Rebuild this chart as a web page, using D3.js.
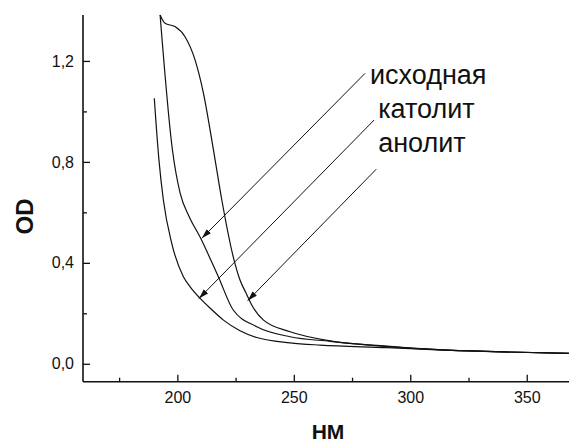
<!DOCTYPE html>
<meta charset="utf-8">
<script src="https://cdn.jsdelivr.net/npm/d3@7"></script>
<style>
  body { margin: 0; background: #fff; }
  svg { display: block; font-family: Arial, "Liberation Sans", sans-serif; }
</style>
<svg></svg>
<script>
// spectra (wavelength nm, optical density)
var catholyteNm = [190.1, 192.1, 194.0, 197.6, 202.6, 205.5, 209.7, 214.0, 219.8, 226.9, 234.1, 248.4, 261.3, 290, 314, 340, 369];
var catholyteOD = [1.052, 0.808, 0.649, 0.477, 0.345, 0.305, 0.260, 0.221, 0.173, 0.131, 0.104, 0.083, 0.074, 0.064, 0.054, 0.047, 0.041];

var initialNm = [192.6, 197.9, 201.2, 205.0, 209.7, 217.6, 224.0, 234.1, 248.4, 265.6, 290, 314, 340, 369];
var initialOD = [1.382, 0.847, 0.676, 0.585, 0.503, 0.345, 0.213, 0.147, 0.107, 0.089, 0.068, 0.055, 0.047, 0.041];

var anolyteNm = [192.6, 194.7, 199.0, 203.3, 207.6, 211.2, 214.0, 216.0, 219.1, 224.0, 226.9, 229.5, 232.0, 237.0, 248.4, 265.6, 290, 314, 340, 369];
var anolyteOD = [1.382, 1.349, 1.336, 1.296, 1.204, 1.072, 0.930, 0.820, 0.649, 0.424, 0.332, 0.280, 0.232, 0.173, 0.127, 0.091, 0.070, 0.055, 0.047, 0.041];

var xMajor = [200, 250, 300, 350],
    xMinor = [175, 225, 275, 325];
var yMajor = [0, 0.4, 0.8, 1.2],
    yMinor = [0.2, 0.6, 1.0];

// arrow annotations
var labels   = ["исходная", "католит", "анолит"];
var arrowTail = [[280.6, 1.151], [284.5, 0.966], [285.4, 0.771]];
var arrowTip  = [[210.5, 0.497], [209.3, 0.259], [230.2, 0.250]];
var labelAt   = [[282.7, 1.109], [286.2, 0.974], [286.2, 0.839]];

var W = 569, H = 443;
var svg = d3.select("svg").attr("width", W).attr("height", H);

var x = d3.scaleLinear().domain([159.5, 369]).range([83, 571]);
var y = d3.scaleLinear().domain([-0.071, 1.382]).range([381.7, 15]);

var fmt = function(d){ return d3.format(".1f")(d).replace(".", ","); };

svg.append("defs").append("clipPath").attr("id", "plot")
   .append("rect").attr("x", 83).attr("y", 14).attr("width", W - 83).attr("height", 368);

svg.select("defs").append("marker")
   .attr("id", "head")
   .attr("markerUnits", "userSpaceOnUse")
   .attr("viewBox", "0 -4 11 8")
   .attr("refX", 10).attr("refY", 0)
   .attr("markerWidth", 11).attr("markerHeight", 8)
   .attr("orient", "auto")
   .append("path").attr("d", "M0,-3L10,0L0,3Z").attr("fill", "#111");

// axes
var yAxis = svg.append("g").attr("transform", "translate(83,0)")
   .call(d3.axisLeft(y).tickValues(yMajor).tickSize(-7).tickPadding(9).tickFormat(fmt));
svg.append("g").attr("transform", "translate(83,0)")
   .call(d3.axisLeft(y).tickValues(yMinor).tickSize(-4).tickFormat(""));

var xAxis = svg.append("g").attr("transform", "translate(0,381.7)")
   .call(d3.axisBottom(x).tickValues(xMajor).tickSize(-7).tickPadding(10));
svg.append("g").attr("transform", "translate(0,381.7)")
   .call(d3.axisBottom(x).tickValues(xMinor).tickSize(-4).tickFormat(""));

svg.selectAll(".domain").attr("stroke", "#111").attr("stroke-width", 1.6).attr("d", null);
yAxis.select(".domain").attr("d", "M0,15V381.7");
xAxis.select(".domain").attr("d", "M83,0H569");
svg.selectAll(".tick line").attr("stroke", "#111").attr("stroke-width", 1.3);
svg.selectAll(".tick text").attr("font-size", 16).attr("fill", "#111")
   .attr("font-family", "Arial, 'Liberation Sans', sans-serif");

// curves
var line = d3.line()
   .x(function(d){ return x(d[0]); })
   .y(function(d){ return y(d[1]); })
   .curve(d3.curveMonotoneX);

var series = [
  d3.zip(initialNm, initialOD),
  d3.zip(catholyteNm, catholyteOD),
  d3.zip(anolyteNm, anolyteOD)
];

svg.append("g").attr("clip-path", "url(#plot)")
   .selectAll("path").data(series).enter().append("path")
   .attr("d", line)
   .attr("fill", "none")
   .attr("stroke", "#111")
   .attr("stroke-width", 1.2);

// annotations
svg.selectAll("line.arrow").data(labels).enter().append("line")
   .attr("class", "arrow")
   .attr("x1", function(d, i){ return x(arrowTail[i][0]); })
   .attr("y1", function(d, i){ return y(arrowTail[i][1]); })
   .attr("x2", function(d, i){ return x(arrowTip[i][0]); })
   .attr("y2", function(d, i){ return y(arrowTip[i][1]); })
   .attr("stroke", "#111").attr("stroke-width", 1)
   .attr("marker-end", "url(#head)");

svg.selectAll("text.lbl").data(labels).enter().append("text")
   .attr("class", "lbl")
   .attr("x", function(d, i){ return x(labelAt[i][0]); })
   .attr("y", function(d, i){ return y(labelAt[i][1]); })
   .attr("font-size", 27).attr("fill", "#111")
   .text(function(d){ return d; });

// axis titles
svg.append("text")
   .attr("transform", "translate(33,216.5) rotate(-90)")
   .attr("text-anchor", "middle")
   .attr("font-size", 24).attr("font-weight", "bold").attr("fill", "#111")
   .text("OD");

svg.append("text")
   .attr("x", 328).attr("y", 438.5)
   .attr("text-anchor", "middle")
   .attr("font-size", 21).attr("font-weight", "bold").attr("fill", "#111")
   .text("НМ");
</script>
